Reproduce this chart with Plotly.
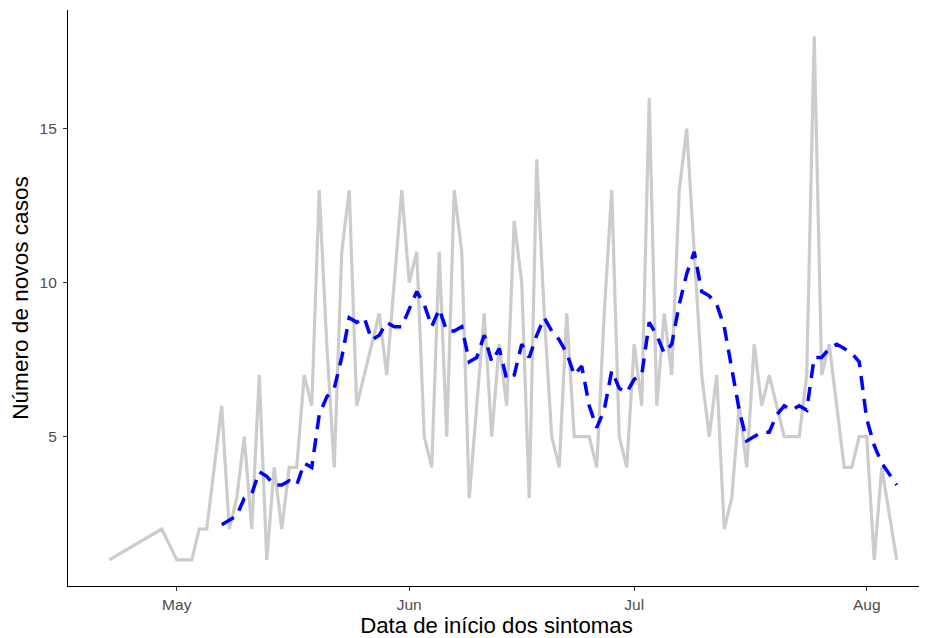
import plotly.graph_objects as go

# Daily new cases (gray line)
case_dates = [
    "2020-04-22", "2020-04-29", "2020-05-01", "2020-05-03", "2020-05-04", "2020-05-05",
    "2020-05-07", "2020-05-08", "2020-05-09", "2020-05-10", "2020-05-11", "2020-05-12",
    "2020-05-13", "2020-05-14", "2020-05-15", "2020-05-16", "2020-05-17", "2020-05-18",
    "2020-05-19", "2020-05-20", "2020-05-21", "2020-05-22", "2020-05-23", "2020-05-24",
    "2020-05-25", "2020-05-26", "2020-05-27", "2020-05-28", "2020-05-29", "2020-05-30",
    "2020-05-31", "2020-06-01", "2020-06-02", "2020-06-03", "2020-06-04", "2020-06-05",
    "2020-06-06", "2020-06-07", "2020-06-08", "2020-06-09", "2020-06-10", "2020-06-11",
    "2020-06-12", "2020-06-13", "2020-06-14", "2020-06-15", "2020-06-16", "2020-06-17",
    "2020-06-18", "2020-06-19", "2020-06-20", "2020-06-21", "2020-06-22", "2020-06-23",
    "2020-06-24", "2020-06-25", "2020-06-26", "2020-06-27", "2020-06-28", "2020-06-29",
    "2020-06-30", "2020-07-01", "2020-07-02", "2020-07-03", "2020-07-04", "2020-07-05",
    "2020-07-06", "2020-07-07", "2020-07-08", "2020-07-09", "2020-07-10", "2020-07-11",
    "2020-07-12", "2020-07-13", "2020-07-14", "2020-07-15", "2020-07-16", "2020-07-17",
    "2020-07-18", "2020-07-19", "2020-07-20", "2020-07-21", "2020-07-22", "2020-07-23",
    "2020-07-24", "2020-07-25", "2020-07-26", "2020-07-27", "2020-07-28", "2020-07-29",
    "2020-07-30", "2020-07-31", "2020-08-01", "2020-08-02", "2020-08-03", "2020-08-05",
]
case_values = [
    1, 2, 1, 1, 2, 2,
    6, 2, 3, 5, 2, 7,
    1, 4, 2, 4, 4, 7,
    6, 13, 8, 4, 11, 13,
    6, 7, 8, 9, 7, 10,
    13, 10, 11, 5, 4, 11,
    5, 13, 11, 3, 6, 9,
    5, 8, 6, 12, 10, 3,
    14, 9, 5, 4, 9, 5,
    5, 5, 4, 9, 13, 5,
    4, 8, 6, 16, 6, 9,
    7, 13, 15, 11, 7, 5,
    7, 2, 3, 6, 4, 8,
    6, 7, 6, 5, 5, 5,
    7, 18, 7, 8, 6, 4,
    4, 5, 5, 1, 4, 1,
]

# 7-record moving average (blue dashed line)
avg_dates = case_dates[6:]
avg_values = [
    2.14, 2.29, 2.43, 3.00, 3.14, 3.86,
    3.71, 3.43, 3.43, 3.57, 3.43, 4.14,
    4.00, 5.71, 6.29, 6.57, 7.57, 8.86,
    8.71, 8.86, 8.14, 8.29, 8.71, 8.57,
    8.57, 9.14, 9.71, 9.29, 8.57, 9.14,
    8.43, 8.43, 8.57, 7.43, 7.57, 8.29,
    7.43, 7.86, 6.86, 7.00, 8.00, 7.57,
    8.29, 8.86, 8.43, 8.14, 7.71, 7.00,
    7.29, 6.00, 5.29, 5.86, 7.14, 6.57,
    6.43, 6.86, 7.00, 8.71, 8.29, 7.71,
    8.00, 9.29, 10.29, 11.00, 9.71, 9.57,
    9.29, 8.57, 7.14, 5.86, 4.86, 5.00,
    5.14, 5.14, 5.71, 6.00, 5.86, 6.00,
    5.86, 7.57, 7.57, 7.86, 8.00, 7.86,
    7.71, 7.43, 5.57, 4.71, 4.14, 3.43,
]

x_tick_vals = ["2020-05-01", "2020-06-01", "2020-07-01", "2020-08-01"]
x_tick_text = ["May", "Jun", "Jul", "Aug"]
y_tick_vals = [5, 10, 15]

fig = go.Figure()
fig.add_trace(go.Scatter(
    x=case_dates, y=case_values, mode="lines",
    line=dict(color="#cccccc", width=3.2),
    showlegend=False, hoverinfo="skip",
))
fig.add_trace(go.Scatter(
    x=avg_dates, y=avg_values, mode="lines",
    line=dict(color="#0000ff", width=3.5, dash="14px,9px"),
    showlegend=False, hoverinfo="skip",
))

font_family = "Liberation Sans, Arial, sans-serif"
fig.update_layout(
    width=919, height=630,
    margin=dict(l=60, r=2, t=2, b=52),
    paper_bgcolor="white", plot_bgcolor="white",
    font=dict(family=font_family, color="#000000"),
    xaxis=dict(
        type="date",
        range=["2020-04-16 12:00", "2020-08-08 18:30"],
        tickvals=x_tick_vals, ticktext=x_tick_text,
        showgrid=False, zeroline=False,
        showline=True, linecolor="#000000", linewidth=1.2,
        ticks="outside", ticklen=4, tickwidth=1, tickcolor="#333333",
        ticklabelstandoff=0,
        tickfont=dict(size=15.5, color="#4d4d4d", family=font_family),
        title=dict(text="Data de início dos sintomas", font=dict(size=22.2, color="#000000"), standoff=6),
        automargin=False,
    ),
    yaxis=dict(
        range=[0.15, 18.85],
        tickvals=y_tick_vals,
        showgrid=False, zeroline=False,
        showline=True, linecolor="#000000", linewidth=1.2,
        ticks="outside", ticklen=4, tickwidth=1, tickcolor="#333333",
        ticklabelstandoff=3,
        tickfont=dict(size=15.5, color="#4d4d4d", family=font_family),
        title=dict(text="Número de novos casos", font=dict(size=22.6, color="#000000"), standoff=6),
        automargin=False,
    ),
)

fig.write_html("out.html")
